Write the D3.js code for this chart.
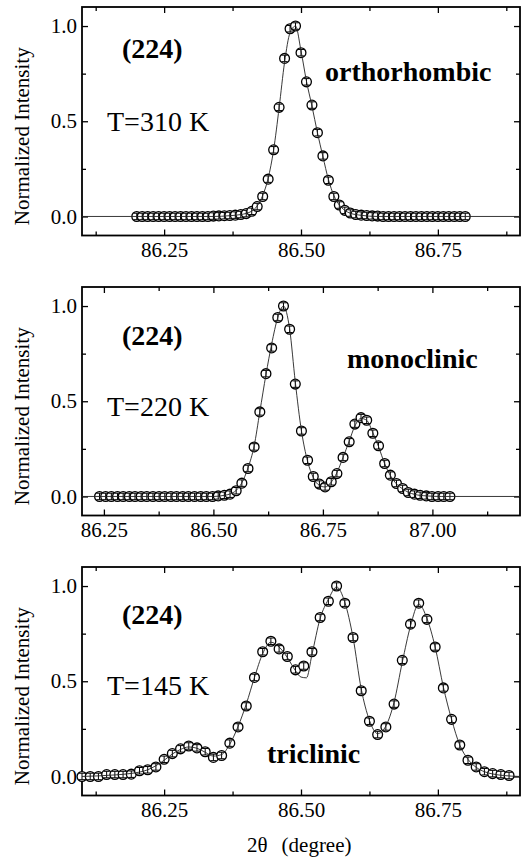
<!DOCTYPE html>
<html><head><meta charset="utf-8">
<script src="https://cdn.jsdelivr.net/npm/d3@7"></script>
<style>body{margin:0;background:#fff}svg{display:block}svg text{font-family:"Liberation Serif","DejaVu Serif",serif !important}</style>
</head><body>
<script>
// ---------- data ----------
// Panel 1: T = 310 K, orthorhombic
const x310 = [86.20,86.21,86.22,86.23,86.24,86.25,86.26,86.27,86.28,86.29,86.30,86.31,86.32,86.33,86.34,86.35,86.36,86.37,86.38,86.39,86.40,86.41,86.42,86.43,86.44,86.45,86.46,86.47,86.48,86.49,86.50,86.51,86.52,86.53,86.54,86.55,86.56,86.57,86.58,86.59,86.60,86.61,86.62,86.63,86.64,86.65,86.66,86.67,86.68,86.69,86.70,86.71,86.72,86.73,86.74,86.75,86.76,86.77,86.78,86.79,86.80];
const y310 = [0,0,0,0,0,0,0,0,0,0,0,0,0,0,0.002,0.003,0.004,0.005,0.007,0.01,0.015,0.027,0.052,0.105,0.196,0.35,0.573,0.83,0.986,1.0,0.86,0.707,0.585,0.44,0.318,0.19,0.105,0.06,0.032,0.018,0.01,0.007,0.005,0.003,0.002,0,0,0,0,0,0,0,0,0,0,0,0,0,0,0,0];
const fitX310 = [86.10,86.34,86.37,86.39,86.40,86.41,86.42,86.43,86.44,86.45,86.46,86.47,86.48,86.49,86.50,86.51,86.52,86.53,86.54,86.55,86.56,86.57,86.58,86.59,86.61,86.64,86.90];
const fitY310 = [0,0,0.004,0.01,0.016,0.028,0.055,0.11,0.2,0.35,0.57,0.81,0.965,1.0,0.87,0.71,0.58,0.44,0.315,0.195,0.11,0.06,0.032,0.017,0.006,0,0];

// Panel 2: T = 220 K, monoclinic
const x220 = [86.240,86.254,86.267,86.281,86.294,86.308,86.321,86.335,86.348,86.362,86.376,86.389,86.403,86.416,86.430,86.443,86.457,86.471,86.484,86.498,86.511,86.525,86.538,86.552,86.565,86.579,86.593,86.606,86.620,86.633,86.647,86.660,86.674,86.687,86.701,86.715,86.728,86.742,86.755,86.769,86.782,86.796,86.810,86.823,86.837,86.850,86.864,86.877,86.891,86.904,86.918,86.932,86.945,86.959,86.972,86.986,86.999,87.013,87.026,87.040];
const y220 = [0,0,0,0,0,0,0,0,0,0,0,0,0,0,0,0,0,0,0,0,0.003,0.006,0.012,0.03,0.07,0.147,0.26,0.444,0.645,0.78,0.94,1.0,0.878,0.59,0.344,0.19,0.105,0.065,0.05,0.077,0.12,0.205,0.287,0.38,0.414,0.40,0.332,0.266,0.173,0.112,0.068,0.042,0.021,0.012,0.006,0.003,0,0,0,0];
const fitX220 = [86.20,86.50,86.525,86.538,86.552,86.565,86.579,86.593,86.606,86.620,86.633,86.647,86.660,86.674,86.687,86.701,86.715,86.728,86.742,86.755,86.769,86.782,86.796,86.810,86.823,86.837,86.850,86.864,86.877,86.891,86.904,86.918,86.932,86.945,86.959,86.986,87.02,87.20];
const fitY220 = [0,0,0.006,0.013,0.032,0.072,0.15,0.265,0.445,0.64,0.8,0.94,1.0,0.88,0.6,0.345,0.185,0.1,0.058,0.05,0.075,0.125,0.205,0.29,0.37,0.41,0.4,0.335,0.262,0.172,0.11,0.066,0.04,0.022,0.011,0.003,0,0];

// Panel 3: T = 145 K, triclinic
const x145 = [86.100,86.115,86.130,86.145,86.160,86.175,86.190,86.205,86.220,86.235,86.250,86.265,86.280,86.295,86.310,86.325,86.340,86.355,86.370,86.385,86.400,86.415,86.430,86.445,86.460,86.475,86.490,86.505,86.520,86.535,86.550,86.565,86.580,86.595,86.610,86.625,86.640,86.655,86.670,86.685,86.700,86.715,86.730,86.745,86.760,86.775,86.790,86.805,86.820,86.835,86.850,86.865,86.880];
const y145 = [0,0,0,0.01,0.01,0.01,0.012,0.03,0.035,0.05,0.09,0.12,0.145,0.16,0.15,0.13,0.10,0.11,0.175,0.26,0.37,0.52,0.655,0.71,0.67,0.63,0.56,0.58,0.655,0.835,0.92,1.0,0.91,0.73,0.45,0.29,0.22,0.26,0.38,0.61,0.80,0.91,0.825,0.68,0.465,0.30,0.165,0.085,0.05,0.025,0.015,0.01,0.005];
const fitX145 = [86.10,86.13,86.16,86.19,86.22,86.25,86.265,86.28,86.295,86.31,86.325,86.34,86.355,86.37,86.385,86.40,86.415,86.43,86.445,86.46,86.475,86.49,86.50,86.51,86.52,86.535,86.55,86.565,86.58,86.595,86.61,86.625,86.64,86.655,86.67,86.685,86.70,86.715,86.73,86.745,86.76,86.775,86.79,86.805,86.82,86.835,86.85,86.87,86.90];
const fitY145 = [0,0.003,0.008,0.016,0.035,0.085,0.118,0.142,0.155,0.148,0.127,0.107,0.115,0.17,0.262,0.38,0.52,0.645,0.705,0.68,0.625,0.555,0.522,0.518,0.64,0.83,0.93,0.995,0.915,0.73,0.46,0.295,0.225,0.265,0.39,0.6,0.79,0.905,0.83,0.68,0.47,0.3,0.165,0.09,0.048,0.025,0.013,0.005,0];

const errorBar = 0.017;

// axis ranges and ticks
const xRanges = [[86.1, 86.9], [86.2, 87.2], [86.1, 86.9]];
const xMajor = [[86.25, 86.50, 86.75], [86.25, 86.50, 86.75, 87.00], [86.25, 86.50, 86.75]];
const xMinor = [[86.125, 86.375, 86.625, 86.875], [86.375, 86.625, 86.875, 87.125], [86.125, 86.375, 86.625, 86.875]];
const yRange = [-0.1, 1.1];
const yMajor = [0, 0.5, 1.0];
const yMinor = [0.25, 0.75];

const reflection = ["(224)", "(224)", "(224)"];
const temperatures = ["T=310 K", "T=220 K", "T=145 K"];
const phases = ["orthorhombic", "monoclinic", "triclinic"];
const yTitle = "Normalized Intensity";

// ---------- layout ----------
const W = 532, H = 862;
const left = 82, right = 520;
const tops = [7, 287, 567];
const ph = 228.5;
const textPos = [
  {r: [122, 58], t: [107, 131], p: [325, 81]},
  {r: [122, 345], t: [107, 416], p: [347, 368]},
  {r: [122, 624], t: [107, 695], p: [267, 763]}
];

const serif = "Liberation Serif";
const svg = d3.select("body").append("svg").attr("width", W).attr("height", H);

const panels = [
  {x: x310, y: y310, fx: fitX310, fy: fitY310},
  {x: x220, y: y220, fx: fitX220, fy: fitY220},
  {x: x145, y: y145, fx: fitX145, fy: fitY145}
];

panels.forEach((P, k) => {
  const top = tops[k], bottom = top + ph;
  const xs = d3.scaleLinear().domain(xRanges[k]).range([left, right]);
  const ys = d3.scaleLinear().domain(yRange).range([bottom, top]);
  const g = svg.append("g");

  const clipId = "clip" + k;
  svg.append("clipPath").attr("id", clipId).append("rect")
    .attr("x", left).attr("y", top).attr("width", right - left).attr("height", ph);

  const styleAxis = (sel) => {
    sel.attr("font-family", null).attr("font-size", null);
    sel.select(".domain").remove();
    sel.selectAll("line").attr("stroke", "#000").attr("stroke-width", 1.3);
    sel.selectAll("text").style("font-size", "21px").attr("fill", "#000");
  };
  // bottom
  g.append("g").attr("transform", `translate(0,${bottom})`)
    .call(d3.axisBottom(xs).tickValues(xMajor[k]).tickFormat(d3.format(".2f")).tickSizeInner(-6).tickSizeOuter(0).tickPadding(7))
    .call(styleAxis);
  g.append("g").attr("transform", `translate(0,${bottom})`)
    .call(d3.axisBottom(xs).tickValues(xMinor[k]).tickFormat("").tickSizeInner(-4).tickSizeOuter(0))
    .call(styleAxis);
  // top
  g.append("g").attr("transform", `translate(0,${top})`)
    .call(d3.axisTop(xs).tickValues(xMajor[k]).tickFormat("").tickSizeInner(-6).tickSizeOuter(0))
    .call(styleAxis);
  g.append("g").attr("transform", `translate(0,${top})`)
    .call(d3.axisTop(xs).tickValues(xMinor[k]).tickFormat("").tickSizeInner(-4).tickSizeOuter(0))
    .call(styleAxis);
  // left
  g.append("g").attr("transform", `translate(${left},0)`)
    .call(d3.axisLeft(ys).tickValues(yMajor).tickFormat(d3.format(".1f")).tickSizeInner(-6).tickSizeOuter(0).tickPadding(5))
    .call(styleAxis);
  g.append("g").attr("transform", `translate(${left},0)`)
    .call(d3.axisLeft(ys).tickValues(yMinor).tickFormat("").tickSizeInner(-4).tickSizeOuter(0))
    .call(styleAxis);
  // right
  g.append("g").attr("transform", `translate(${right},0)`)
    .call(d3.axisRight(ys).tickValues(yMajor).tickFormat("").tickSizeInner(-6).tickSizeOuter(0))
    .call(styleAxis);
  g.append("g").attr("transform", `translate(${right},0)`)
    .call(d3.axisRight(ys).tickValues(yMinor).tickFormat("").tickSizeInner(-4).tickSizeOuter(0))
    .call(styleAxis);

  // frame
  g.append("rect").attr("x", left).attr("y", top).attr("width", right - left).attr("height", ph)
    .attr("fill", "none").attr("stroke", "#000").attr("stroke-width", 1.8);

  // data points
  const pts = P.x.map((v, i) => ({x: v, y: P.y[i]}));
  const pg = g.append("g");
  pts.forEach(d => {
    const cx = xs(d.x), cy = ys(d.y);
    pg.append("circle").attr("cx", cx).attr("cy", cy).attr("r", 4.9)
      .attr("fill", "#fff").attr("stroke", "#000").attr("stroke-width", 1.3);
    const y0 = ys(d.y - errorBar), y1 = ys(d.y + errorBar);
    pg.append("line").attr("x1", cx).attr("x2", cx).attr("y1", y0).attr("y2", y1)
      .attr("stroke", "#000").attr("stroke-width", 1);
    [y0, y1].forEach(yy => pg.append("line").attr("x1", cx - 3).attr("x2", cx + 3)
      .attr("y1", yy).attr("y2", yy).attr("stroke", "#000").attr("stroke-width", 1));
  });

  // fit line
  const fit = P.fx.map((v, i) => [v, P.fy[i]]);
  g.append("path").datum(fit)
    .attr("clip-path", `url(#${clipId})`)
    .attr("d", d3.line().x(d => xs(d[0])).y(d => ys(d[1])).curve(d3.curveMonotoneX))
    .attr("fill", "none").attr("stroke", "#222").attr("stroke-width", 0.9);

  // annotations
  const tp = textPos[k];
  g.append("text").attr("x", tp.r[0]).attr("y", tp.r[1]).text(reflection[k])
    .style("font-size", "28px").attr("font-weight", "bold");
  g.append("text").attr("x", tp.t[0]).attr("y", tp.t[1]).text(temperatures[k])
    .style("font-size", "28px");
  g.append("text").attr("x", tp.p[0]).attr("y", tp.p[1]).text(phases[k])
    .style("font-size", "28px").attr("font-weight", "bold");

  // y title
  const cy = top + ph / 2 + 15;
  g.append("text").attr("transform", `translate(29,${cy}) rotate(-90)`)
    .attr("text-anchor", "middle").text(yTitle)
    .style("font-size", "21px");
});

// x title
const xt = svg.append("text").attr("x", 247).attr("y", 852).style("font-size", "21px");
xt.append("tspan").text("2θ");
xt.append("tspan").attr("dx", 14).text("(degree)");
</script>
</body></html>
